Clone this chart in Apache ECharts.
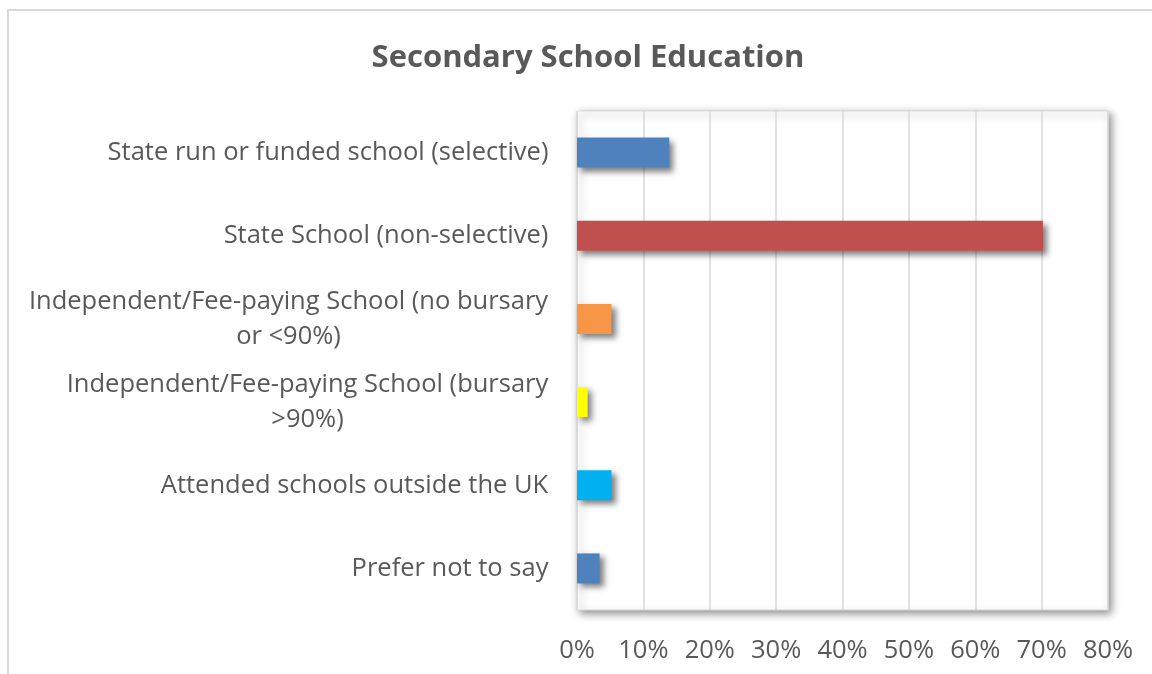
<!DOCTYPE html>
<html>
<head>
<meta charset="utf-8">
<script src="https://cdn.jsdelivr.net/npm/echarts@6/dist/echarts.min.js"></script>
<style>
html,body{margin:0;padding:0;background:#fff;}
#chart{width:1152px;height:674px;}
</style>
</head>
<body>
<div id="chart"></div>
<script>
const title = 'Secondary School Education';
const categories = [
  'State run or funded school (selective)',
  'State School (non-selective)',
  'Independent/Fee-paying School (no bursary\nor <90%)',
  'Independent/Fee-paying School (bursary\n>90%)',
  'Attended schools outside the UK',
  'Prefer not to say'
];
const values = [0.139, 0.702, 0.052, 0.016, 0.052, 0.034];
const barColors = ['#4F81BD', '#C0504D', '#F79646', '#FFFF00', '#00B0F0', '#4F81BD'];
const xTicks = [0, 0.1, 0.2, 0.3, 0.4, 0.5, 0.6, 0.7, 0.8];

const FONT = 'Open Sans';
const LABEL_SIZE = 25.5;
const textColor = '#595959';

const cv = document.createElement('canvas').getContext('2d');
cv.font = LABEL_SIZE + 'px "' + FONT + '"';
const rich = {};
categories.forEach((c, i) => {
  const lines = c.split('\n');
  const w = Math.max(...lines.map(l => cv.measureText(l).width));
  rich['c' + i] = {width: Math.ceil(w) + 1, align: 'center', fontFamily: FONT, fontSize: LABEL_SIZE, color: textColor, lineHeight: 35};
});

const chart = echarts.init(document.getElementById('chart'), null, {renderer: 'canvas'});
chart.setOption({
  backgroundColor: '#ffffff',
  animation: false,
  graphic: [{
    type: 'rect', shape: {x: 8, y: 10, width: 1200, height: 700},
    style: {fill: 'none', stroke: '#d9d9d9', lineWidth: 2}, z: -10, silent: true
  }],
  title: {
    text: title, left: 583, top: 38, textAlign: 'center',
    textStyle: {fontFamily: FONT, fontWeight: 'bold', fontSize: 31, color: textColor}
  },
  grid: {
    left: 577, right: 44, top: 111, bottom: 64,
    show: true, backgroundColor: '#ffffff', borderColor: '#d9d9d9', borderWidth: 1,
    shadowBlur: 8, shadowColor: 'rgba(0,0,0,0.45)', shadowOffsetX: 3, shadowOffsetY: 3
  },
  xAxis: {
    type: 'value', min: 0, max: 0.8, interval: 0.1,
    axisLine: {show: false}, axisTick: {show: false},
    splitLine: {show: true, lineStyle: {color: '#d9d9d9', width: 1.5}},
    axisLabel: {
      margin: 28, fontFamily: FONT, fontSize: LABEL_SIZE, color: textColor,
      formatter: v => Math.round(v * 100) + '%'
    }
  },
  yAxis: {
    type: 'category', data: categories, inverse: true,
    axisLine: {show: false}, axisTick: {show: false},
    axisLabel: {
      margin: 28, align: 'right', rich: rich,
      formatter: (v, i) => v.split('\n').map(l => '{c' + i + '|' + l + '}').join('\n')
    }
  },
  series: [{
    type: 'bar',
    data: values.map((v, i) => ({value: v, itemStyle: {color: barColors[i]}})),
    barWidth: 30,
    itemStyle: {shadowBlur: 6, shadowColor: 'rgba(0,0,0,0.5)', shadowOffsetX: 4, shadowOffsetY: 4}
  }]
});
</script>
</body>
</html>
